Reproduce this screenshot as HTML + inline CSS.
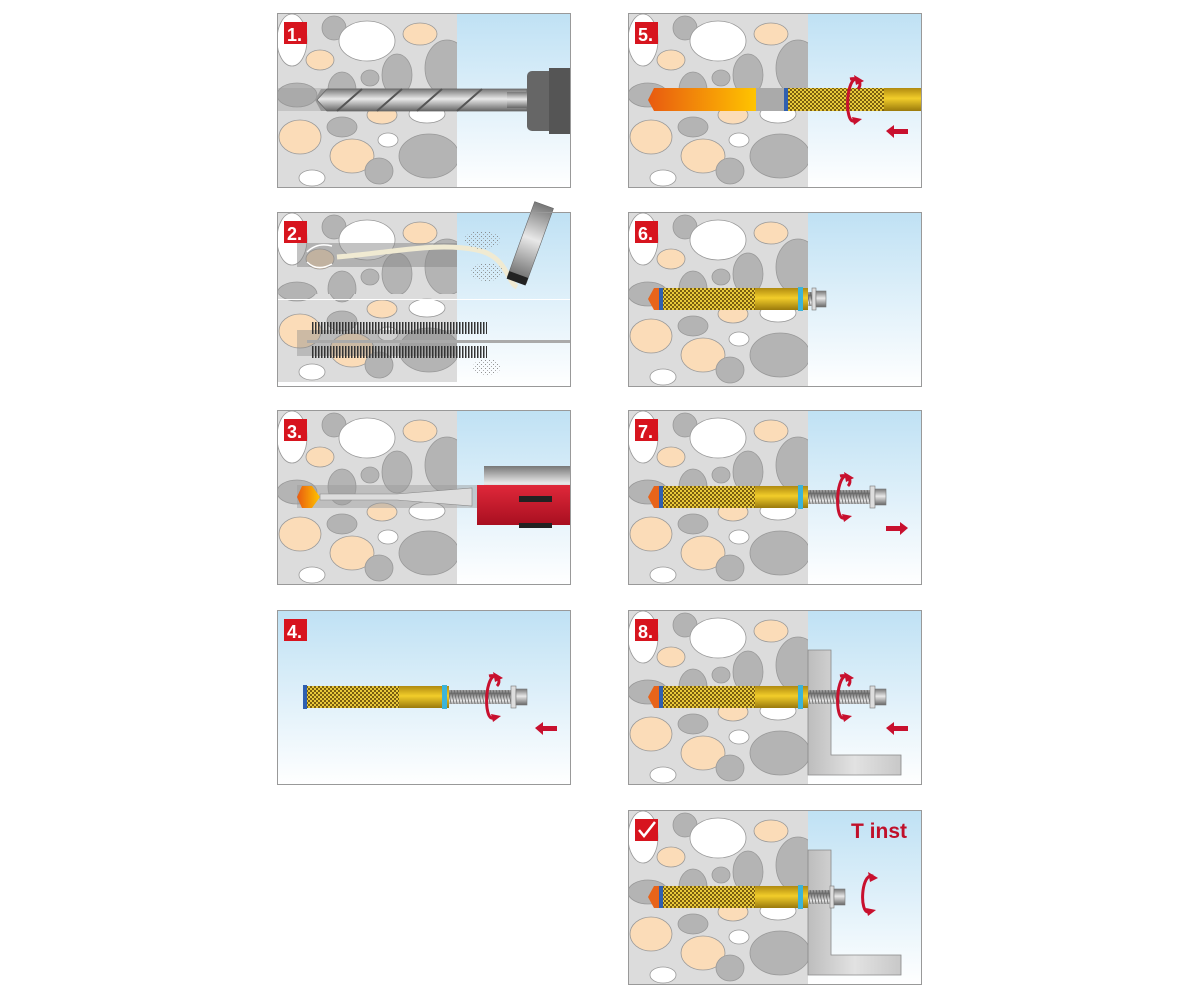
<!DOCTYPE html>
<html><head><meta charset="utf-8"><style>html,body{margin:0;padding:0;background:#fff}svg{display:block}</style></head>
<body>
<svg width="1200" height="1000" viewBox="0 0 1200 1000" xmlns="http://www.w3.org/2000/svg">
<defs>
<linearGradient id="sky" x1="0" y1="0" x2="0" y2="1"><stop offset="0" stop-color="#bfe1f4"/><stop offset="1" stop-color="#ffffff"/></linearGradient>
<linearGradient id="gold" x1="0" y1="0" x2="0" y2="1"><stop offset="0" stop-color="#b08a10"/><stop offset="0.45" stop-color="#f2cd2a"/><stop offset="1" stop-color="#9a7a0c"/></linearGradient>
<linearGradient id="steel" x1="0" y1="0" x2="0" y2="1"><stop offset="0" stop-color="#777"/><stop offset="0.45" stop-color="#e8e8e8"/><stop offset="1" stop-color="#666"/></linearGradient>
<linearGradient id="brk" x1="0" y1="0" x2="1" y2="0"><stop offset="0" stop-color="#bdbdbd"/><stop offset="0.5" stop-color="#e2e2e2"/><stop offset="1" stop-color="#c8c8c8"/></linearGradient>
<linearGradient id="inj" x1="0" y1="0" x2="1" y2="0"><stop offset="0" stop-color="#e85a10"/><stop offset="1" stop-color="#ffc400"/></linearGradient>
<linearGradient id="redg" x1="0" y1="0" x2="0" y2="1"><stop offset="0" stop-color="#e0283a"/><stop offset="1" stop-color="#a80f20"/></linearGradient>
<pattern id="knurl" width="4" height="4" patternUnits="userSpaceOnUse"><rect width="4" height="4" fill="#7a5e10"/><rect x="0" y="0" width="2" height="2" fill="#e9c93a"/><rect x="2" y="2" width="2" height="2" fill="#e9c93a"/></pattern>
<pattern id="thread" width="3" height="14" patternUnits="userSpaceOnUse"><rect width="3" height="14" fill="url(#steel)"/><line x1="0" y1="0" x2="3" y2="14" stroke="#666" stroke-width="0.8"/></pattern>
<pattern id="dust" width="4" height="4" patternUnits="userSpaceOnUse"><rect x="0" y="0" width="1" height="1" fill="#777"/><rect x="2" y="2" width="1" height="1" fill="#999"/></pattern>
<clipPath id="wallclip"><rect x="0" y="0" width="180" height="175"/></clipPath>
<clipPath id="topclip"><rect x="0" y="0" width="180" height="87"/></clipPath>
<clipPath id="botclip"><rect x="0" y="87" width="180" height="88"/></clipPath>
<g id="stones" stroke="#999" stroke-width="0.8">
<rect x="0" y="0" width="180" height="175" fill="#dcdcdc" stroke="none"/>
<ellipse cx="15" cy="27" rx="15" ry="26" fill="#fff"/>
<ellipse cx="57" cy="15" rx="12" ry="12" fill="#b4b4b4"/>
<ellipse cx="90" cy="28" rx="28" ry="20" fill="#fff"/>
<ellipse cx="143" cy="21" rx="17" ry="11" fill="#fbdcb8"/>
<ellipse cx="43" cy="47" rx="14" ry="10" fill="#fbdcb8"/>
<ellipse cx="170" cy="55" rx="22" ry="28" fill="#b4b4b4"/>
<ellipse cx="120" cy="62" rx="15" ry="21" fill="#b4b4b4"/>
<ellipse cx="93" cy="65" rx="9" ry="8" fill="#b4b4b4"/>
<ellipse cx="65" cy="77" rx="14" ry="18" fill="#b4b4b4"/>
<ellipse cx="20" cy="82" rx="20" ry="12" fill="#b4b4b4"/>
<ellipse cx="105" cy="102" rx="15" ry="9" fill="#fbdcb8"/>
<ellipse cx="150" cy="101" rx="18" ry="9" fill="#fff"/>
<ellipse cx="23" cy="124" rx="21" ry="17" fill="#fbdcb8"/>
<ellipse cx="65" cy="114" rx="15" ry="10" fill="#b4b4b4"/>
<ellipse cx="111" cy="127" rx="10" ry="7" fill="#fff"/>
<ellipse cx="75" cy="143" rx="22" ry="17" fill="#fbdcb8"/>
<ellipse cx="152" cy="143" rx="30" ry="22" fill="#b4b4b4"/>
<ellipse cx="102" cy="158" rx="14" ry="13" fill="#b4b4b4"/>
<ellipse cx="35" cy="165" rx="13" ry="8" fill="#fff"/>
</g>
<g id="bg">
<rect x="0" y="0" width="294" height="175" fill="url(#sky)"/>
<use href="#stones" clip-path="url(#wallclip)"/>
</g>
<g id="sleeve">
<polygon points="20,87 26,76 32,76 32,98 26,98" fill="#e8641a"/>
<rect x="32" y="76" width="95" height="22" fill="url(#knurl)"/>
<rect x="31" y="76" width="4" height="22" fill="#2f5fb0"/>
<rect x="127" y="76" width="53" height="22" fill="url(#gold)"/>
<rect x="170" y="75" width="5" height="24" fill="#3cb4d8"/>
</g>
<g id="rod">
<rect x="180" y="80" width="64" height="14" fill="url(#thread)"/>
<rect x="242" y="76" width="5" height="22" fill="#ddd" stroke="#777" stroke-width="0.6"/>
<rect x="247" y="79" width="11" height="16" fill="url(#steel)" stroke="#777" stroke-width="0.6"/>
</g>
<g id="rot" fill="none" stroke="#c8102e" stroke-width="3">
<path d="M 220 66 C 208 62, 206 110, 216 108"/>
<path d="M 212 66 C 222 64, 224 72, 220 76"/>
<polygon points="216,62 226,68 218,72" fill="#c8102e" stroke="none"/>
<polygon points="214,104 224,106 216,112" fill="#c8102e" stroke="none"/>
</g>
<g id="arrL"><polygon points="258,118 266,112 266,116 280,116 280,121 266,121 266,125" fill="#c8102e"/></g>
<g id="arrR"><polygon points="280,118 272,112 272,116 258,116 258,121 272,121 272,125" fill="#c8102e"/></g>
<g id="bracket"><path d="M180 40 H203 V145 H273 V165 H180 Z" fill="url(#brk)" stroke="#888" stroke-width="0.8"/></g>
<rect id="frame" x="0.5" y="0.5" width="293" height="174" fill="none" stroke="#999"/>
</defs>

<g font-family="Liberation Sans, sans-serif" font-weight="bold">
<!-- Panel 1 -->
<g transform="translate(277,13)">
<use href="#bg"/>
<rect x="0" y="75" width="180" height="23" fill="#999" opacity="0.35"/>
<polygon points="38,87 44,76 54,76 54,98 44,98" fill="#999"/>
<path d="M40 87 L50 76 H250 V98 H50 Z" fill="url(#steel)" stroke="#666" stroke-width="0.8"/>
<g stroke="#555" stroke-width="2" fill="none"><path d="M60 98 L85 76"/><path d="M100 98 L125 76"/><path d="M140 98 L165 76"/><path d="M180 98 L205 76"/></g>
<rect x="230" y="79" width="22" height="16" fill="url(#steel)"/>
<rect x="250" y="58" width="44" height="60" rx="5" fill="#666"/>
<rect x="272" y="55" width="22" height="66" fill="#555"/>
<rect x="7" y="9" width="23" height="22" fill="#d7141e"/><text x="10" y="28" fill="#fff" font-size="18">1.</text>
<use href="#frame"/>
</g>
<!-- Panel 2 -->
<g transform="translate(277,212)">
<rect x="0" y="0" width="294" height="175" fill="url(#sky)"/>
<use href="#stones" clip-path="url(#topclip)"/>
<g transform="translate(0,-5)"><use href="#stones" clip-path="url(#botclip)"/></g>
<rect x="0" y="87" width="294" height="1" fill="#fff"/>
<rect x="20" y="31" width="160" height="24" fill="#888" opacity="0.5"/>
<path d="M60 45 C120 40,160 30,200 38 C230 44,230 70,240 75" stroke="#f0ead2" stroke-width="5" fill="none"/>
<g transform="rotate(20,250,40)"><rect x="240" y="-10" width="20" height="80" fill="url(#steel)" stroke="#666" stroke-width="0.6"/><rect x="240" y="64" width="20" height="8" fill="#222"/></g>
<g fill="url(#dust)" opacity="0.8"><ellipse cx="205" cy="28" rx="18" ry="9"/><ellipse cx="210" cy="60" rx="16" ry="9"/><ellipse cx="210" cy="155" rx="14" ry="8"/></g>
<g stroke="#fff" stroke-width="1.5" fill="none"><path d="M30 40 Q40 30 55 34"/><path d="M30 50 Q40 60 55 52"/></g>
<rect x="20" y="118" width="160" height="26" fill="#888" opacity="0.4"/>
<g stroke="#333" stroke-width="1.4"><path d="M35 116 L210 116" stroke-dasharray="1.5 1.5" stroke-width="12"/><path d="M35 140 L210 140" stroke-dasharray="1.5 1.5" stroke-width="12"/></g>
<rect x="30" y="128" width="264" height="3" fill="#aaa"/>
<rect x="7" y="9" width="23" height="22" fill="#d7141e"/><text x="10" y="28" fill="#fff" font-size="18">2.</text>
<use href="#frame"/>
</g>
<!-- Panel 3 -->
<g transform="translate(277,410)">
<use href="#bg"/>
<rect x="20" y="75" width="180" height="23" fill="#999" opacity="0.45"/>
<polygon points="20,87 25,76 35,76 43,87 35,98 25,98" fill="url(#inj)"/>
<path d="M43 84 L120 84 L195 78 V96 L120 90 L43 90 Z" fill="#ddd" stroke="#888" stroke-width="0.6"/>
<rect x="207" y="56" width="87" height="38" fill="url(#steel)"/>
<rect x="200" y="75" width="94" height="40" fill="url(#redg)"/>
<rect x="242" y="86" width="33" height="6" fill="#222"/><rect x="242" y="113" width="33" height="5" fill="#222"/>
<rect x="7" y="9" width="23" height="22" fill="#d7141e"/><text x="10" y="28" fill="#fff" font-size="18">3.</text>
<use href="#frame"/>
</g>
<!-- Panel 4 -->
<g transform="translate(277,610)">
<rect x="0" y="0" width="294" height="175" fill="url(#sky)"/>
<g transform="translate(-5,0)"><rect x="32" y="76" width="95" height="22" fill="url(#knurl)"/><rect x="31" y="75" width="4" height="24" fill="#2f5fb0"/><rect x="127" y="76" width="50" height="22" fill="url(#gold)"/><rect x="170" y="75" width="5" height="24" fill="#3cb4d8"/></g>
<g transform="translate(-8,0)"><use href="#rod"/></g>
<use href="#rot"/>
<use href="#arrL"/>
<rect x="7" y="9" width="23" height="22" fill="#d7141e"/><text x="10" y="28" fill="#fff" font-size="18">4.</text>
<use href="#frame"/>
</g>
<!-- Panel 5 -->
<g transform="translate(628,13)">
<use href="#bg"/>
<polygon points="20,87 26,75 128,75 128,98 26,98" fill="url(#inj)"/>
<rect x="128" y="75" width="30" height="23" fill="#aaa"/>
<rect x="156" y="75" width="4" height="23" fill="#2f5fb0"/>
<rect x="160" y="75" width="96" height="23" fill="url(#knurl)"/>
<rect x="256" y="75" width="38" height="23" fill="url(#gold)"/>
<use href="#rot" transform="translate(10,0)"/>
<use href="#arrL"/>
<rect x="7" y="9" width="23" height="22" fill="#d7141e"/><text x="10" y="28" fill="#fff" font-size="18">5.</text>
<use href="#frame"/>
</g>
<!-- Panel 6 -->
<g transform="translate(628,212)">
<use href="#bg"/>
<use href="#sleeve"/>
<rect x="180" y="80" width="6" height="14" fill="url(#thread)"/>
<rect x="184" y="76" width="4" height="22" fill="#ddd" stroke="#777" stroke-width="0.6"/>
<rect x="188" y="79" width="10" height="16" fill="url(#steel)" stroke="#777" stroke-width="0.6"/>
<rect x="7" y="9" width="23" height="22" fill="#d7141e"/><text x="10" y="28" fill="#fff" font-size="18">6.</text>
<use href="#frame"/>
</g>
<!-- Panel 7 -->
<g transform="translate(628,410)">
<use href="#bg"/>
<use href="#sleeve"/><use href="#rod"/>
<use href="#rot"/><use href="#arrR"/>
<rect x="7" y="9" width="23" height="22" fill="#d7141e"/><text x="10" y="28" fill="#fff" font-size="18">7.</text>
<use href="#frame"/>
</g>
<!-- Panel 8 -->
<g transform="translate(628,610)">
<use href="#bg"/>
<use href="#bracket"/>
<use href="#sleeve"/><use href="#rod"/>
<use href="#rot"/><use href="#arrL"/>
<rect x="7" y="9" width="23" height="22" fill="#d7141e"/><text x="10" y="28" fill="#fff" font-size="18">8.</text>
<use href="#frame"/>
</g>
<!-- Panel 9 -->
<g transform="translate(628,810)">
<use href="#bg"/>
<use href="#bracket"/>
<use href="#sleeve"/>
<rect x="180" y="80" width="22" height="14" fill="url(#thread)"/>
<rect x="202" y="76" width="4" height="22" fill="#ddd" stroke="#777" stroke-width="0.6"/>
<rect x="206" y="79" width="11" height="16" fill="url(#steel)" stroke="#777" stroke-width="0.6"/>
<g fill="none" stroke="#c8102e" stroke-width="3"><path d="M245 66 C233 62,231 104,241 102"/></g>
<polygon points="240,62 250,68 242,72" fill="#c8102e"/><polygon points="238,98 248,100 240,106" fill="#c8102e"/>
<text x="223" y="28" fill="#c0102a" font-size="21">T inst</text>
<rect x="7" y="9" width="23" height="22" fill="#d7141e"/>
<path d="M11 20 L16 26 L27 12" stroke="#fff" stroke-width="2.5" fill="none"/>
<use href="#frame"/>
</g>
</g>
</svg>
</body></html>
